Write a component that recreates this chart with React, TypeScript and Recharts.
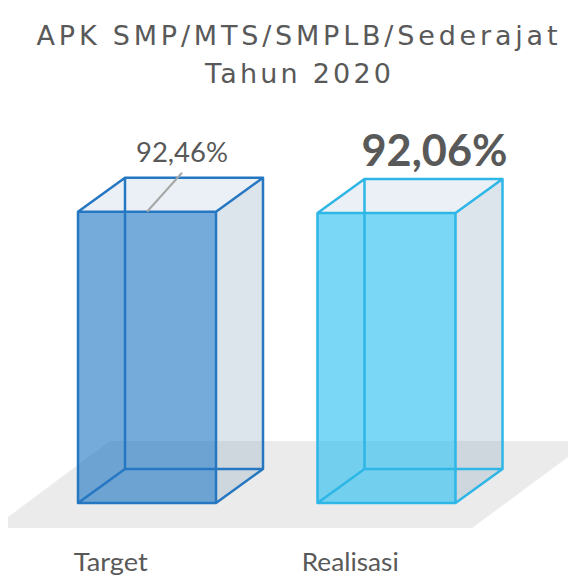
import React from "react";
import { Bar, BarChart, XAxis, YAxis } from "recharts";

// APK SMP/MTS/SMPLB/Sederajat, Tahun 2020
const categories = ["Target", "Realisasi"];
const values = [92.46, 92.06];

const W = 568;
const H = 576;
const FONT = "Lato, 'Open Sans', sans-serif";
const TITLE_FONT = "'DejaVu Sans', sans-serif";
const TEXT = "#595959";

// depth of the 3d box (px)
const DX = 47;
const DY = -34;

const boxColors = [
  { face: "#1773c3", edge: "#2677c2" },
  { face: "#22bdf0", edge: "#2db6e6" },
];

const labelStyles = [
  { size: 26, weight: 400, dx: 35, dy: -50, leader: true, len: 92 },
  { size: 44, weight: 700, dx: 48, dy: -47, leader: false, len: 146 },
];

const fmt = (v: number) => v.toFixed(2).replace(".", ",") + "%";

const data = categories.map((name, i) => ({ name, value: values[i] }));

function Box3D(props: any) {
  const { x, y, width, height, index, value } = props;
  const c = boxColors[index % boxColors.length];
  const x0 = x;
  const x1 = x + width;
  const yt = y;
  const yb = y + height;
  const pts = (a: number[][]) => a.map((p) => p.join(",")).join(" ");
  const edges = [
    `M${x0},${yt}H${x1}V${yb}H${x0}Z`,
    `M${x0 + DX},${yt + DY}H${x1 + DX}V${yb + DY}H${x0 + DX}Z`,
    `M${x0},${yt}L${x0 + DX},${yt + DY}`,
    `M${x1},${yt}L${x1 + DX},${yt + DY}`,
    `M${x1},${yb}L${x1 + DX},${yb + DY}`,
    `M${x0},${yb}L${x0 + DX},${yb + DY}`,
  ].join(" ");
  const ls = labelStyles[index % labelStyles.length];
  const cx = x + width / 2;
  return (
    <g>
      <polygon
        points={pts([[x0, yt], [x1, yt], [x1 + DX, yt + DY], [x0 + DX, yt + DY]])}
        fill="#b9cdde"
        fillOpacity={0.3}
      />
      <polygon
        points={pts([[x1, yt], [x1 + DX, yt + DY], [x1 + DX, yb + DY], [x1, yb]])}
        fill="#8ea8c0"
        fillOpacity={0.3}
      />
      <rect x={x0} y={yt} width={width} height={height} fill={c.face} fillOpacity={0.6} />
      <path d={edges} fill="none" stroke={c.edge} strokeWidth={2.5} strokeLinejoin="round" />
      {ls.leader && (
        <line x1={cx + ls.dx} y1={y - 39} x2={cx} y2={y} stroke="#a6a6a6" strokeWidth={2} />
      )}
      <text
        x={cx + ls.dx}
        y={y + ls.dy}
        textAnchor="middle"
        fontFamily={FONT}
        fontSize={ls.size}
        fontWeight={ls.weight}
        fill={TEXT}
        textLength={ls.len}
        lengthAdjust="spacingAndGlyphs"
      >
        {fmt(value)}
      </text>
    </g>
  );
}

function CategoryTick(props: any) {
  const { x, y, payload } = props;
  const lens: Record<string, number> = { Target: 74, Realisasi: 97 };
  return (
    <text
      x={x - 36}
      y={y + 68}
      textAnchor="middle"
      fontFamily={FONT}
      fontSize={25}
      fill={TEXT}
      textLength={lens[payload.value]}
      lengthAdjust="spacingAndGlyphs"
    >
      {payload.value}
    </text>
  );
}

export default function App() {
  return (
    <div style={{ position: "absolute", left: 0, top: 0, width: W, height: H, background: "#fff" }}>
      <svg width={W} height={H} style={{ position: "absolute", left: 0, top: 0 }}>
        <polygon
          points="8,528 8,517 110,441 568,441 568,457 472,528"
          fill="#ebebeb"
        />
        <text
          x={297}
          y={45}
          textAnchor="middle"
          fontFamily={TITLE_FONT}
          fontSize={27}
          fill={TEXT}
          textLength={521}
          lengthAdjust="spacing"
        >
          APK SMP/MTS/SMPLB/Sederajat
        </text>
        <text
          x={298}
          y={83}
          textAnchor="middle"
          fontFamily={TITLE_FONT}
          fontSize={27}
          fill={TEXT}
          textLength={186}
          lengthAdjust="spacing"
        >
          Tahun 2020
        </text>
      </svg>
      <div style={{ position: "absolute", left: 0, top: 0 }}>
        <BarChart
          width={W}
          height={H}
          data={data}
          margin={{ top: 188, right: 62, bottom: 0, left: 27 }}
        >
          <XAxis
            dataKey="name"
            axisLine={false}
            tickLine={false}
            tickSize={0}
            tickMargin={0}
            height={73}
            interval={0}
            tick={<CategoryTick />}
          />
          <YAxis hide domain={[0, 100]} />
          <Bar dataKey="value" barSize={138} shape={<Box3D />} isAnimationActive={false} />
        </BarChart>
      </div>
    </div>
  );
}
